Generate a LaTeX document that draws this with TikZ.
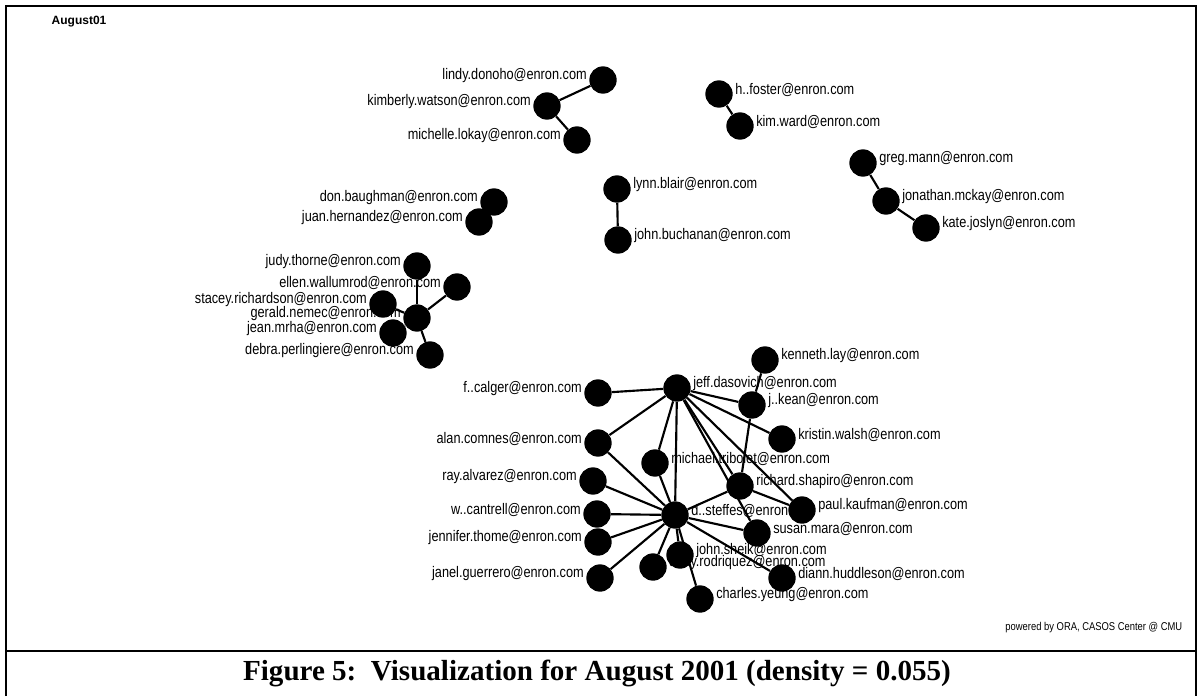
\documentclass[tikz,border=0pt]{standalone}
\usepackage{fontspec}
\setmainfont{Liberation Sans}
\newfontfamily\capfont{Liberation Serif}
\newfontfamily\labfont[FakeStretch=0.83]{Liberation Sans}
\usetikzlibrary{positioning}
\pgfdeclarelayer{labels}
\pgfdeclarelayer{edges}
\pgfsetlayers{labels,edges,main}
\tikzset{
  actor/.style={circle, fill=black, minimum size=20.5pt, inner sep=0pt},
  rlab/.style={anchor=west, xshift=12pt, yshift=3pt, inner sep=0pt, font=\labfont\fontsize{11.5}{13}\selectfont},
  llab/.style={anchor=east, xshift=-12pt, yshift=3pt, inner sep=0pt, font=\labfont\fontsize{11.5}{13}\selectfont},
  tie/.style={line width=1.6pt}
}
\begin{document}
\begin{tikzpicture}[x=0.75pt,y=-0.75pt]
  \useasboundingbox (0,0) rectangle (1198,696);
  % frame and caption
  \draw[line width=1.5pt] (6,696) -- (6,6) -- (1196,6) -- (1196,696);
  \draw[line width=1.5pt] (6,651) -- (1196,651);
  \node[anchor=west, font=\fontsize{9}{10}\selectfont\bfseries] (title) at (47,22) {August01};
  \node[anchor=east, font=\labfont\fontsize{8.5}{9}\selectfont] (credit) at (1187,628) {powered by ORA, CASOS Center @ CMU};
  \node[font=\capfont\fontsize{21.8}{26}\selectfont\bfseries] (caption) at (597,673)
    {Figure 5:\ \ Visualization for August 2001 (density = 0.055)};

  % small groups
  \node[actor] (lindy) at (603,80) {};
  \node[actor] (kimberly) at (547,106) {};
  \node[actor] (michelle) at (577,140) {};
  \node[actor] (hfoster) at (719,94) {};
  \node[actor] (kimward) at (740,126) {};
  \node[actor] (gregmann) at (863,163) {};
  \node[actor] (jmckay) at (886,201) {};
  \node[actor] (kjoslyn) at (926,228) {};
  \node[actor] (lblair) at (617,189) {};
  \node[actor] (jbuchanan) at (618,240) {};
  \node[actor] (dbaughman) at (494,202) {};
  \node[actor] (jhernandez) at (479,222) {};
  \node[actor] (jthorne) at (417,266) {};
  \node[actor] (ewallumrod) at (457,287) {};
  \node[actor] (srichardson) at (383,304) {};
  \node[actor] (gnemec) at (417,318) {};
  \node[actor] (jmrha) at (393,333) {};
  \node[actor] (dperlingiere) at (430,355) {};

  % main group
  \node[actor] (jdasovich) at (677,388) {};
  \node[actor] (fcalger) at (598,393) {};
  \node[actor] (acomnes) at (598,443) {};
  \node[actor] (mtribolet) at (655,463) {};
  \node[actor] (ralvarez) at (593,481) {};
  \node[actor] (wcantrell) at (597,514) {};
  \node[actor] (jthome) at (598,542) {};
  \node[actor] (jguerrero) at (600,578) {};
  \node[actor] (dsteffes) at (675,515) {};
  \node[actor] (arodriquez) at (653,567) {};
  \node[actor] (jsheik) at (680,555) {};
  \node[actor] (cyeung) at (700,599) {};
  \node[actor] (klay) at (765,360) {};
  \node[actor] (jkean) at (752,405) {};
  \node[actor] (kwalsh) at (782,439) {};
  \node[actor] (rshapiro) at (740,486) {};
  \node[actor] (pkaufman) at (802,510) {};
  \node[actor] (smara) at (757,533) {};
  \node[actor] (dhuddleson) at (782,578) {};

  \begin{pgfonlayer}{labels}
    \node[llab] (lindyt) at (lindy) {lindy.donoho@enron.com};
    \node[llab] (kimberlyt) at (kimberly) {kimberly.watson@enron.com};
    \node[llab] (michellet) at (michelle) {michelle.lokay@enron.com};
    \node[rlab] (hfostert) at (hfoster) {h..foster@enron.com};
    \node[rlab] (kimwardt) at (kimward) {kim.ward@enron.com};
    \node[rlab] (gregmannt) at (gregmann) {greg.mann@enron.com};
    \node[rlab] (jmckayt) at (jmckay) {jonathan.mckay@enron.com};
    \node[rlab] (kjoslynt) at (kjoslyn) {kate.joslyn@enron.com};
    \node[rlab] (lblairt) at (lblair) {lynn.blair@enron.com};
    \node[rlab] (jbuchanant) at (jbuchanan) {john.buchanan@enron.com};
    \node[llab] (dbaughmant) at (dbaughman) {don.baughman@enron.com};
    \node[llab] (jhernandezt) at (jhernandez) {juan.hernandez@enron.com};
    \node[llab] (jthornet) at (jthorne) {judy.thorne@enron.com};
    \node[llab] (ewallumrodt) at (ewallumrod) {ellen.wallumrod@enron.com};
    \node[llab] (srichardsont) at (srichardson) {stacey.richardson@enron.com};
    \node[llab] (gnemect) at (gnemec) {gerald.nemec@enron.com};
    \node[llab] (jmrhat) at (jmrha) {jean.mrha@enron.com};
    \node[llab] (dperlingieret) at (dperlingiere) {debra.perlingiere@enron.com};
    \node[rlab] (jdasovicht) at (jdasovich) {jeff.dasovich@enron.com};
    \node[llab] (fcalgert) at (fcalger) {f..calger@enron.com};
    \node[llab] (acomnest) at (acomnes) {alan.comnes@enron.com};
    \node[rlab] (mtribolett) at (mtribolet) {michael.tribolet@enron.com};
    \node[llab] (ralvarezt) at (ralvarez) {ray.alvarez@enron.com};
    \node[llab] (wcantrellt) at (wcantrell) {w..cantrell@enron.com};
    \node[llab] (jthomet) at (jthome) {jennifer.thome@enron.com};
    \node[llab] (jguerrerot) at (jguerrero) {janel.guerrero@enron.com};
    \node[rlab] (dsteffest) at (dsteffes) {d..steffes@enron.com};
    \node[rlab] (arodriquezt) at (arodriquez) {andy.rodriquez@enron.com};
    \node[rlab] (jsheikt) at (jsheik) {john.sheik@enron.com};
    \node[rlab] (cyeungt) at (cyeung) {charles.yeung@enron.com};
    \node[rlab] (klayt) at (klay) {kenneth.lay@enron.com};
    \node[rlab] (jkeant) at (jkean) {j..kean@enron.com};
    \node[rlab] (kwalsht) at (kwalsh) {kristin.walsh@enron.com};
    \node[rlab] (rshapirot) at (rshapiro) {richard.shapiro@enron.com};
    \node[rlab] (pkaufmant) at (pkaufman) {paul.kaufman@enron.com};
    \node[rlab] (smarat) at (smara) {susan.mara@enron.com};
    \node[rlab] (dhuddlesont) at (dhuddleson) {diann.huddleson@enron.com};
  \end{pgfonlayer}

  \begin{pgfonlayer}{edges}
    \draw[tie] (kimberly) -- (lindy);
    \draw[tie] (kimberly) -- (michelle);
    \draw[tie] (hfoster) -- (kimward);
    \draw[tie] (gregmann) -- (jmckay);
    \draw[tie] (jmckay) -- (kjoslyn);
    \draw[tie] (lblair) -- (jbuchanan);
    \draw[tie] (dbaughman) -- (jhernandez);
    \foreach \t in {jthorne,ewallumrod,srichardson,jmrha,dperlingiere}
      \draw[tie] (gnemec) -- (\t);
    \foreach \t in {fcalger,acomnes,mtribolet,dsteffes,jkean,kwalsh,rshapiro,pkaufman,smara}
      \draw[tie] (jdasovich) -- (\t);
    \foreach \t in {acomnes,ralvarez,wcantrell,jthome,jguerrero,arodriquez,jsheik,cyeung,mtribolet,rshapiro,smara,dhuddleson}
      \draw[tie] (dsteffes) -- (\t);
    \draw[tie] (klay) -- (jkean);
    \draw[tie] (jkean) -- (rshapiro);
    \draw[tie] (rshapiro) -- (pkaufman);
  \end{pgfonlayer}
\end{tikzpicture}
\end{document}
